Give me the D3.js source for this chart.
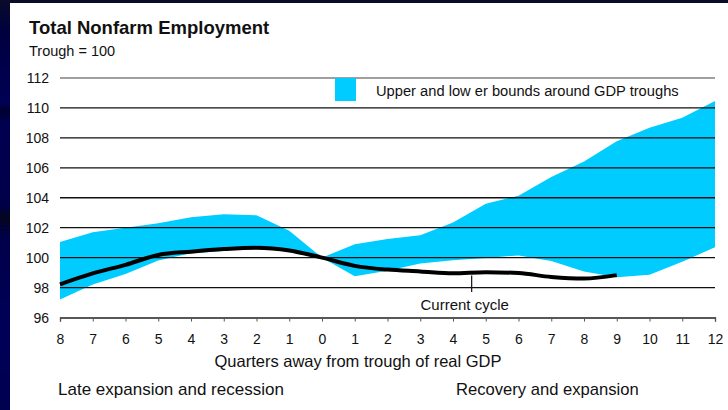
<!DOCTYPE html>
<html>
<head>
<meta charset="utf-8">
<script src="https://cdn.jsdelivr.net/npm/d3@7/dist/d3.min.js"></script>
<style>
  html, body { margin: 0; padding: 0; background: #fff; }
  svg { display: block; font-family: "Liberation Sans", Arial, sans-serif; }
</style>
</head>
<body>
<div id="chart"></div>
<script>
  // quarters relative to the GDP trough (8 before ... 12 after)
  var quarters = ['8', '7', '6', '5', '4', '3', '2', '1', '0',
                  '1', '2', '3', '4', '5', '6', '7', '8', '9', '10', '11', '12'];
  var upperBound = [101.05, 101.7, 102.0, 102.3, 102.7, 102.9, 102.83, 101.8, 100.0,
                    100.9, 101.25, 101.5, 102.35, 103.6, 104.13, 105.38, 106.43, 107.77, 108.67, 109.34, 110.46];
  var lowerBound = [97.2, 98.2, 98.9, 99.8, 100.3, 100.45, 100.8, 100.5, 100.0,
                    98.75, 99.12, 99.6, 99.82, 99.97, 100.15, 99.78, 99.07, 98.69, 98.85, 99.72, 100.7];
  var currentCycle = [98.22, 98.95, 99.52, 100.18, 100.4, 100.57, 100.66, 100.48, 100.0,
                      99.45, 99.2, 99.08, 98.95, 99.03, 98.97, 98.71, 98.6, 98.83];
  var yTicks = [96, 98, 100, 102, 104, 106, 108, 110, 112];

  var width = 728;
  var height = 410;

  var svg = d3.select('#chart').append('svg')
    .attr('width', width)
    .attr('height', height);

  // navy slide frame on the left and top
  var grad = svg.append('defs').append('linearGradient')
    .attr('id', 'frame').attr('x1', 0).attr('y1', 0).attr('x2', 0).attr('y2', 1);
  [[0, '#0a0a2a'], [0.08, '#000040'], [0.25, '#000055'], [0.27, '#00002e'], [0.3, '#000050'],
   [0.5, '#00004a'], [0.53, '#05051f'], [0.58, '#00004a'], [0.8, '#000058'], [1, '#000050']]
    .forEach(function (s) {
      grad.append('stop').attr('offset', s[0]).attr('stop-color', s[1]);
    });
  svg.append('rect').attr('x', 0).attr('y', 0).attr('width', width).attr('height', height)
    .attr('fill', 'url(#frame)');
  svg.append('rect').attr('x', 10).attr('y', 3).attr('width', width - 10).attr('height', height - 3)
    .attr('fill', '#fff');

  var x = d3.scaleLinear().domain([0, quarters.length - 1]).range([60, 715]);
  var y = d3.scaleLinear().domain([96, 112]).range([317.5, 78]);

  // title
  svg.append('text').attr('x', 29).attr('y', 34)
    .attr('font-size', 18.5).attr('font-weight', 'bold').attr('fill', '#111')
    .text('Total Nonfarm Employment');
  svg.append('text').attr('x', 29).attr('y', 56)
    .attr('font-size', 14.5).attr('fill', '#111')
    .text('Trough = 100');

  // band of upper and lower bounds
  var band = d3.area()
    .x(function (d, i) { return x(i); })
    .y0(function (d, i) { return y(lowerBound[i]); })
    .y1(function (d) { return y(d); });
  svg.append('path')
    .datum(upperBound)
    .attr('d', band)
    .attr('fill', '#00ccff');

  // gridlines
  svg.append('g').selectAll('line')
    .data(yTicks.slice(1))
    .enter()
    .append('line')
      .attr('x1', x(0)).attr('x2', x(quarters.length - 1))
      .attr('y1', function (d) { return y(d); })
      .attr('y2', function (d) { return y(d); })
      .attr('stroke', function (d) { return d === 112 ? '#808080' : '#111'; })
      .attr('stroke-width', 1.3);

  // y axis labels
  svg.append('g').selectAll('text')
    .data(yTicks)
    .enter()
    .append('text')
      .attr('x', 49)
      .attr('y', function (d) { return y(d) + 5; })
      .attr('text-anchor', 'end')
      .attr('font-size', 14)
      .attr('fill', '#111')
      .text(function (d) { return d; });

  // x axis
  var xAxis = d3.axisBottom(x)
    .tickValues(d3.range(quarters.length))
    .tickFormat(function (i) { return quarters[i]; })
    .tickSize(4)
    .tickPadding(13);
  var gx = svg.append('g')
    .attr('transform', 'translate(0,' + y(96) + ')')
    .call(xAxis);
  gx.select('.domain').attr('stroke', '#222').attr('stroke-width', 1.3);
  gx.selectAll('.tick line').attr('stroke', '#555');
  gx.selectAll('.tick text')
    .attr('font-size', 14)
    .attr('font-family', '"Liberation Sans", Arial, sans-serif')
    .attr('fill', '#111');

  // current cycle line
  var line = d3.line()
    .x(function (d, i) { return x(i); })
    .y(function (d) { return y(d); })
    .curve(d3.curveMonotoneX);
  svg.append('path')
    .datum(currentCycle)
    .attr('d', line)
    .attr('fill', 'none')
    .attr('stroke', '#000')
    .attr('stroke-width', 4)
    .attr('stroke-linejoin', 'round');

  // current cycle marker
  var markerPos = 12.57;
  svg.append('line')
    .attr('x1', x(markerPos)).attr('x2', x(markerPos))
    .attr('y1', y(98.8)).attr('y2', y(97.7))
    .attr('stroke', '#111').attr('stroke-width', 1.2);
  svg.append('text')
    .attr('x', x(markerPos) - 7).attr('y', 310)
    .attr('text-anchor', 'middle')
    .attr('font-size', 15).attr('fill', '#111')
    .text('Current cycle');

  // legend
  svg.append('rect')
    .attr('x', 335).attr('y', y(112)).attr('width', 21).attr('height', 23)
    .attr('fill', '#00ccff');
  svg.append('text')
    .attr('x', 376).attr('y', 96)
    .attr('font-size', 14.7).attr('fill', '#111')
    .text('Upper and low er bounds around GDP troughs');

  // axis title and phase labels
  svg.append('text')
    .attr('x', 358).attr('y', 367)
    .attr('text-anchor', 'middle')
    .attr('font-size', 16.5).attr('fill', '#111')
    .text('Quarters away from trough of real GDP');
  svg.append('text')
    .attr('x', 58).attr('y', 395)
    .attr('font-size', 17).attr('fill', '#111')
    .text('Late expansion and recession');
  svg.append('text')
    .attr('x', 456).attr('y', 395)
    .attr('font-size', 16.6).attr('fill', '#111')
    .text('Recovery and expansion');
</script>
</body>
</html>
